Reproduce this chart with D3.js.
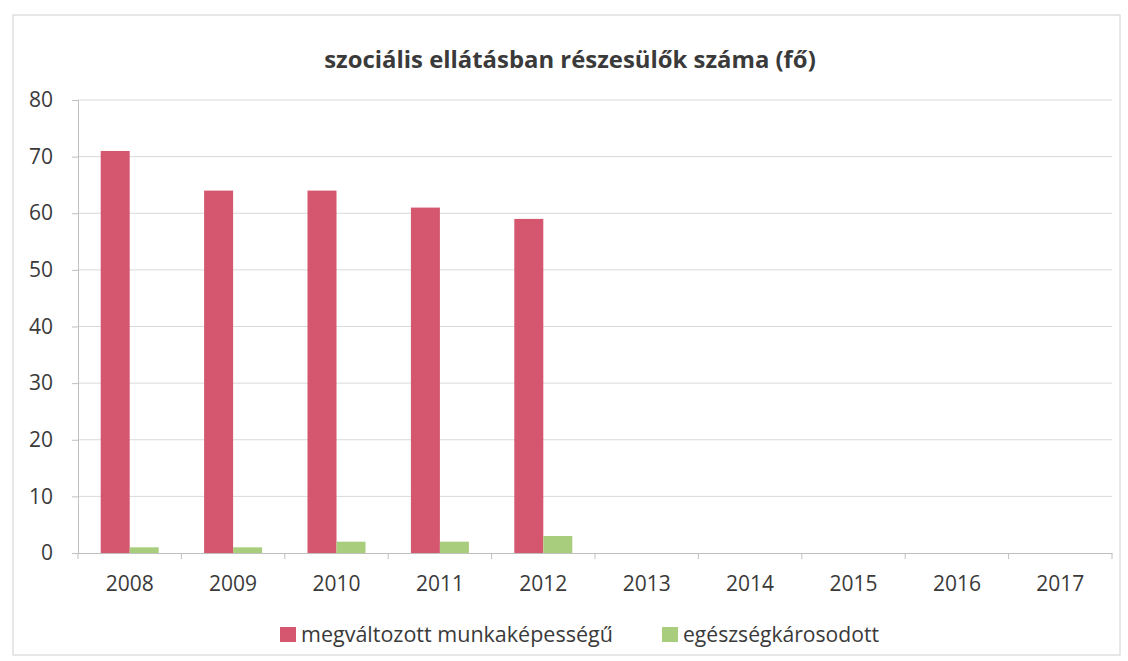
<!DOCTYPE html>
<html>
<head>
<meta charset="utf-8">
<script src="https://cdn.jsdelivr.net/npm/d3@7"></script>
<style>
  body { margin: 0; background: #fff; }
  text { font-family: "Open Sans", sans-serif; fill: #3a3a3a; }
</style>
</head>
<body>
<div id="chart"></div>
<script>
// data
const years = ['2008', '2009', '2010', '2011', '2012', '2013', '2014', '2015', '2016', '2017']
const seriesNames = ['megváltozott munkaképességű', 'egészségkárosodott']
const munkakepesseg = [71, 64, 64, 61, 59, null, null, null, null, null]
const egeszseg = [1, 1, 2, 2, 3, null, null, null, null, null]
const yTicks = [0, 10, 20, 30, 40, 50, 60, 70, 80]

const svgWidth = 1128
const svgHeight = 661
const margin = { top: 100, right: 16, bottom: 108, left: 78 }
const graphWidth = svgWidth - margin.left - margin.right
const graphHeight = svgHeight - margin.top - margin.bottom

const color = d3.scaleOrdinal().domain(seriesNames).range(['#d4566f', '#a8cd7c'])

// scale font size so the text takes the given width
function fitText(sel, width) {
  sel.each(function () {
    const len = this.getComputedTextLength()
    const fs = parseFloat(d3.select(this).style('font-size'))
    d3.select(this).style('font-size', (fs * width / len) + 'px')
  })
}

const svg = d3.select('#chart').append('svg')
  .attr('width', svgWidth)
  .attr('height', svgHeight)

// chart border
svg.append('rect')
  .attr('x', 13).attr('y', 15)
  .attr('width', 1107).attr('height', 640)
  .attr('fill', 'none')
  .attr('stroke', '#d0d0d0')

svg.append('text')
  .attr('x', 570).attr('y', 68)
  .attr('text-anchor', 'middle')
  .style('font-size', '24px')
  .style('font-weight', 'bold')
  .text('szociális ellátásban részesülők száma (fő)')
  .call(fitText, 492)

const graph = svg.append('g')
  .attr('transform', `translate(${margin.left}, ${margin.top})`)

const x = d3.scaleBand().domain(years).range([0, graphWidth])
const xInner = d3.scaleBand().domain(seriesNames).range([x.bandwidth() / 2 - 29, x.bandwidth() / 2 + 29])
const y = d3.scaleLinear().domain([0, 80]).range([graphHeight, 0])

// gridlines
graph.append('g')
  .selectAll('line')
  .data(yTicks.filter(d => d > 0))
  .join('line')
  .attr('x1', 0).attr('x2', graphWidth)
  .attr('y1', d => y(d)).attr('y2', d => y(d))
  .attr('stroke', '#d9d9d9')

// y axis
const yAxisGroup = graph.append('g')
  .call(d3.axisLeft(y).tickValues(yTicks).tickSize(6).tickPadding(19))
yAxisGroup.select('.domain').attr('stroke', '#bfbfbf')
yAxisGroup.selectAll('.tick line').attr('stroke', '#bfbfbf')
yAxisGroup.selectAll('text').style('font-size', '21px').attr('fill', '#3a3a3a')

// bars
const rows = years.map((yr, i) => ({ year: yr, values: [munkakepesseg[i], egeszseg[i]] }))
const groups = graph.selectAll('.yr')
  .data(rows)
  .join('g')
  .attr('class', 'yr')
  .attr('transform', d => `translate(${x(d.year)}, 0)`)

groups.selectAll('rect')
  .data(d => d.values.map((v, j) => ({ key: seriesNames[j], value: v })).filter(e => e.value != null))
  .join('rect')
  .attr('x', d => xInner(d.key))
  .attr('width', xInner.bandwidth())
  .attr('y', d => y(d.value))
  .attr('height', d => graphHeight - y(d.value))
  .attr('fill', d => color(d.key))

// x axis
const xAxisGroup = graph.append('g')
  .attr('transform', `translate(0, ${graphHeight})`)
  .call(d3.axisBottom(x).tickSize(0).tickPadding(23))
xAxisGroup.select('.domain').attr('stroke', '#bfbfbf')
xAxisGroup.selectAll('text')
  .style('font-size', '21px')
  .attr('fill', '#3a3a3a')
xAxisGroup.selectAll('.sep')
  .data(years.concat(['end']))
  .join('line')
  .attr('class', 'sep')
  .attr('x1', (d, i) => i * x.step()).attr('x2', (d, i) => i * x.step())
  .attr('y1', 0).attr('y2', 6)
  .attr('stroke', '#bfbfbf')

// legend
const legendItems = [
  { name: seriesNames[0], x: 280, w: 312 },
  { name: seriesNames[1], x: 662, w: 196 }
]
const legend = svg.append('g')
legend.selectAll('rect')
  .data(legendItems)
  .join('rect')
  .attr('x', d => d.x).attr('y', 627)
  .attr('width', 16).attr('height', 15)
  .attr('fill', d => color(d.name))
legend.selectAll('text')
  .data(legendItems)
  .join('text')
  .attr('x', d => d.x + 21).attr('y', 642)
  .style('font-size', '20px')
  .text(d => d.name)
  .each(function (d) { d3.select(this).call(fitText, d.w) })
</script>
</body>
</html>
